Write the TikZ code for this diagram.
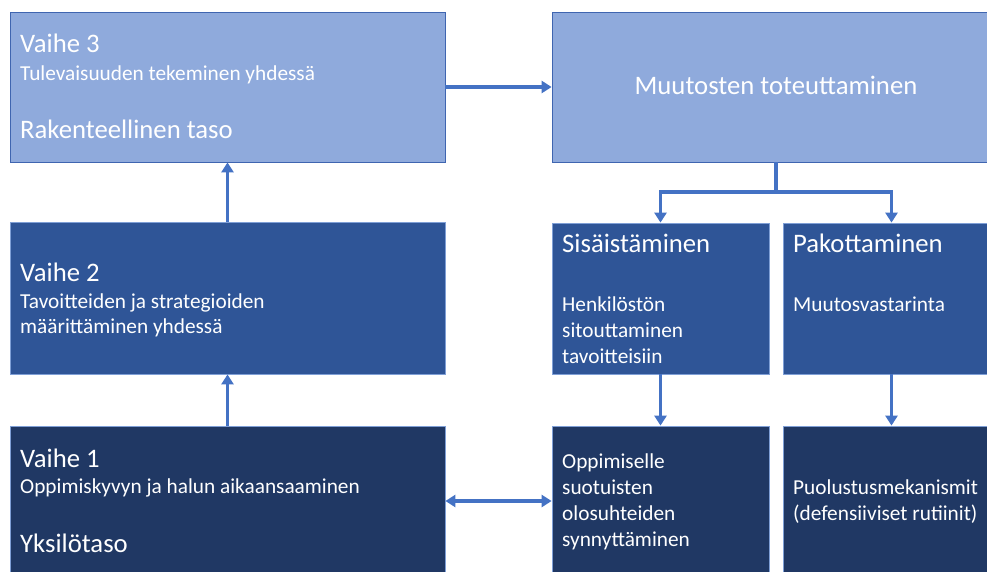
\documentclass[tikz,border=0pt]{standalone}
\usepackage{fontspec}
\setmainfont{Carlito}
\usetikzlibrary{arrows.meta}
\definecolor{lightbox}{HTML}{8FAADC}
\definecolor{midbox}{HTML}{2F5597}
\definecolor{darkbox}{HTML}{203864}
\definecolor{arrowblue}{HTML}{4472C4}
\definecolor{edgeA}{HTML}{3F65B0}
\definecolor{edgeB}{HTML}{7F9FD6}
\tikzset{
  lbox/.style={draw=edgeA, fill=lightbox, line width=0.8pt, inner sep=0pt},
  mbox/.style={draw=edgeB, fill=midbox, line width=0.8pt, inner sep=0pt},
  dbox/.style={draw=edgeB, fill=darkbox, line width=0.8pt, inner sep=0pt},
  wide/.style={minimum width=435pt, minimum height=#1},
  narrow/.style={minimum width=217pt, minimum height=#1},
  ttl/.style={text=white, inner sep=0pt, anchor=base west, font=\fontsize{26.7}{31}\selectfont},
  sub/.style={text=white, inner sep=0pt, anchor=base west, font=\fontsize{21.3}{25}\selectfont},
  conn/.style={draw=arrowblue, line width=3.3pt, -{Triangle[width=12pt,length=10pt]}},
  dconn/.style={draw=arrowblue, line width=3.3pt, {Triangle[width=12pt,length=10pt]}-{Triangle[width=12pt,length=10pt]}}
}
\begin{document}
\begin{tikzpicture}[x=1pt,y=-1pt]
\clip (0,0) rectangle (987,571);
\fill[white] (0,0) rectangle (987,571);

% boxes
\node[lbox, wide=150pt] (v3) at (227.5,87) {};
\node[lbox, minimum width=448pt, minimum height=150pt] (mu) at (776,87) {};
\node[mbox, wide=152pt] (v2) at (227.5,298) {};
\node[mbox, narrow=151pt] (sis) at (660.5,298.5) {};
\node[mbox, narrow=151pt] (pak) at (891.5,298.5) {};
\node[dbox, wide=150pt] (v1) at (227.5,501) {};
\node[dbox, narrow=150pt] (opp) at (660.5,501) {};
\node[dbox, narrow=150pt] (puo) at (891.5,501) {};

% texts
\node[ttl] (v3a) at (20,52.5) {Vaihe 3};
\node[sub] (v3b) at (20,80) {Tulevaisuuden tekeminen yhdessä};
\node[ttl] (v3c) at (20,138) {Rakenteellinen taso};

\node[ttl, anchor=base] (mua) at (776,94.5) {Muutosten toteuttaminen};

\node[ttl] (v2a) at (20,281) {Vaihe 2};
\node[sub] (v2b) at (20,308) {Tavoitteiden ja strategioiden};
\node[sub] (v2c) at (20,333) {määrittäminen yhdessä};

\node[ttl] (sisa) at (562,252.5) {Sisäistäminen};
\node[sub] (sisb) at (562,311.5) {Henkilöstön};
\node[sub] (sisc) at (562,337.5) {sitouttaminen};
\node[sub] (sisd) at (562,363) {tavoitteisiin};

\node[ttl] (paka) at (793,252.5) {Pakottaminen};
\node[sub] (pakb) at (793,311.5) {Muutosvastarinta};

\node[ttl] (v1a) at (20,467) {Vaihe 1};
\node[sub] (v1b) at (20,493) {Oppimiskyvyn ja halun aikaansaaminen};
\node[ttl] (v1c) at (20,552) {Yksilötaso};

\node[sub] (oppa) at (562,468) {Oppimiselle};
\node[sub] (oppb) at (562,494.5) {suotuisten};
\node[sub] (oppc) at (562,520.5) {olosuhteiden};
\node[sub] (oppd) at (562,546) {synnyttäminen};

\node[sub] (puoa) at (793,494.5) {Puolustusmekanismit};
\node[sub] (puob) at (793,520.5) {(defensiiviset rutiinit)};

% connectors
\coordinate (split) at (776,192);
\draw[conn] (v3.east) -- (mu.west);
\draw[draw=arrowblue, line width=3.3pt] (mu.south) -- (split);
\draw[conn] (split) -| (sis.north);
\draw[conn] (split) -| (pak.north);
\draw[conn] (v2.north) -- (v3.south);
\draw[conn] (v1.north) -- (v2.south);
\draw[dconn] (v1.east) -- (opp.west);
\draw[conn] (sis.south) -- (opp.north);
\draw[conn] (pak.south) -- (puo.north);
\end{tikzpicture}
\end{document}
